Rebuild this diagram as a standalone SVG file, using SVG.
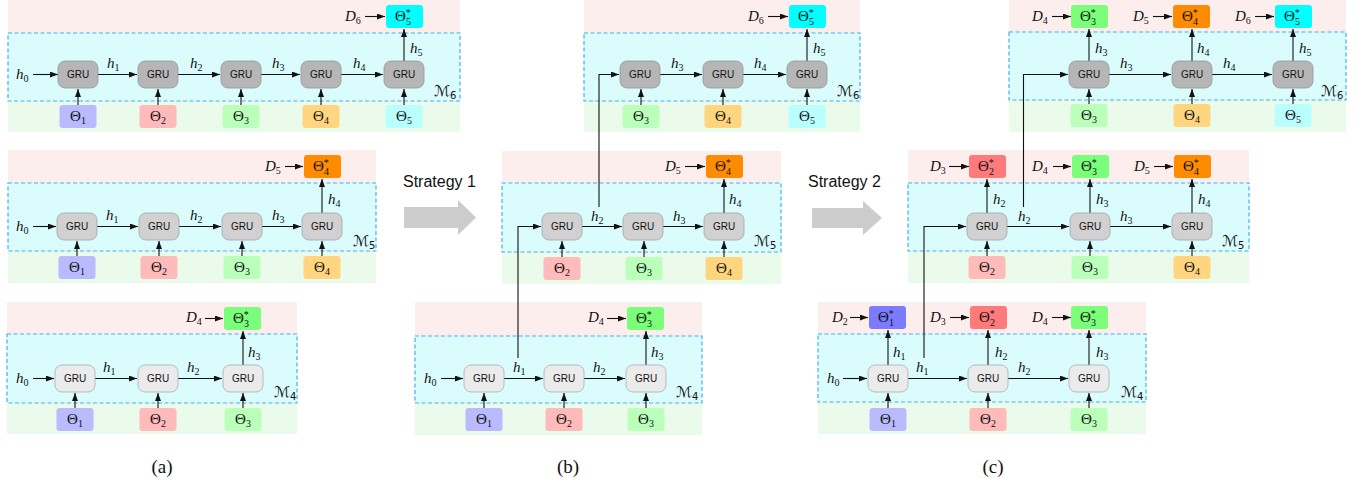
<svg xmlns="http://www.w3.org/2000/svg" width="1367" height="486" viewBox="0 0 1367 486">
<defs>
<marker id="ah" viewBox="0 0 8 6" refX="8" refY="3" markerWidth="8" markerHeight="6" markerUnits="userSpaceOnUse" orient="auto"><path d="M0,0 L8,3 L0,6 z" fill="#111"/></marker>
<style>
.pk{fill:#fdeeee}
.cy{fill:#dbfcfd;stroke:#46aef2;stroke-width:1.2;stroke-dasharray:4 2.5}
.gn{fill:#ebfbeb}
.g6{fill:#b6b6b6;stroke:#949494;stroke-width:0.8}
.g5{fill:#d1d1d1;stroke:#a3a3a3;stroke-width:0.8}
.g4{fill:#ebebeb;stroke:#acacac;stroke-width:0.8}
.gt{font-family:"Liberation Sans",Arial,sans-serif;font-size:10px;text-anchor:middle;fill:#111}
.th{font-family:"Liberation Serif","Times New Roman",serif;font-size:15px;fill:#111;text-anchor:middle}
.ts{font-family:"Liberation Serif","Times New Roman",serif;font-size:15px;fill:#111}
.m{font-family:"Liberation Serif","Times New Roman",serif;font-style:italic;font-size:15px;fill:#111}
.sb{font-size:10px;font-style:normal}
.sp{font-size:10px}
.cm{font-family:"DejaVu Sans",sans-serif;font-size:15px;fill:#111}
.ar{stroke:#111;stroke-width:1.1;fill:none;marker-end:url(#ah)}
.t1{fill:#babaff}.t2{fill:#ffbaba}.t3{fill:#baffba}.t4{fill:#ffd67f}.t5{fill:#baffff}
.s1{fill:#7b7bff}.s2{fill:#ff7b7b}.s3{fill:#7bff7b}.s4{fill:#ff8c00}.s5{fill:#00ffff}
.st{font-family:"Liberation Sans",Arial,sans-serif;font-size:16px;fill:#111}
.cap{font-family:"Liberation Serif","Times New Roman",serif;font-size:19px;text-anchor:middle;fill:#111}
.big{fill:#cccccc}
</style>
</defs>
<rect width="1367" height="486" fill="#ffffff"/>

<!-- ===== bands ===== -->
<g id="a-m6"><rect class="pk" x="8" y="0" width="452" height="33"/><rect class="gn" x="8" y="101" width="452" height="31"/><rect class="cy" x="8" y="33" width="452" height="68"/><text class="cm" x="434" y="96">ℳ<tspan class="sb" dy="3">6</tspan></text></g>
<g id="a-m5"><rect class="pk" x="8" y="150" width="368" height="33"/><rect class="gn" x="8" y="251" width="368" height="32"/><rect class="cy" x="8" y="183" width="368" height="68"/><text class="cm" x="353" y="246">ℳ<tspan class="sb" dy="3">5</tspan></text></g>
<g id="a-m4"><rect class="pk" x="7" y="302" width="290" height="32"/><rect class="gn" x="7" y="403" width="290" height="31"/><rect class="cy" x="7" y="334" width="290" height="69"/><text class="cm" x="274" y="397">ℳ<tspan class="sb" dy="3">4</tspan></text></g>
<g id="b-m6"><rect class="pk" x="584" y="0" width="276" height="33"/><rect class="gn" x="584" y="101" width="276" height="31"/><rect class="cy" x="584" y="33" width="276" height="68"/><text class="cm" x="837" y="96">ℳ<tspan class="sb" dy="3">6</tspan></text></g>
<g id="b-m5"><rect class="pk" x="502" y="151" width="279" height="32"/><rect class="gn" x="502" y="252" width="279" height="32"/><rect class="cy" x="502" y="183" width="279" height="69"/><text class="cm" x="754" y="246">ℳ<tspan class="sb" dy="3">5</tspan></text></g>
<g id="b-m4"><rect class="pk" x="415" y="302" width="287" height="34"/><rect class="gn" x="415" y="403" width="287" height="32"/><rect class="cy" x="415" y="336" width="287" height="67"/><text class="cm" x="676" y="397">ℳ<tspan class="sb" dy="3">4</tspan></text></g>
<g id="c-m6"><rect class="pk" x="1009" y="0" width="337" height="32"/><rect class="gn" x="1009" y="100" width="337" height="32"/><rect class="cy" x="1009" y="32" width="337" height="68"/><text class="cm" x="1321" y="96">ℳ<tspan class="sb" dy="3">6</tspan></text></g>
<g id="c-m5"><rect class="pk" x="908" y="150" width="341" height="33"/><rect class="gn" x="908" y="251" width="341" height="32"/><rect class="cy" x="908" y="183" width="341" height="68"/><text class="cm" x="1222" y="246">ℳ<tspan class="sb" dy="3">5</tspan></text></g>
<g id="c-m4"><rect class="pk" x="818" y="302" width="328" height="32"/><rect class="gn" x="818" y="402" width="328" height="32"/><rect class="cy" x="818" y="334" width="328" height="68"/><text class="cm" x="1121" y="397">ℳ<tspan class="sb" dy="3">4</tspan></text></g>

<!-- ===== connectors ===== -->
<g id="connectors">
<!-- panel a M6 -->
<path class="ar" d="M33,74.5 H58"/><path class="ar" d="M98,74.5 H137"/><path class="ar" d="M178,74.5 H220"/><path class="ar" d="M261,74.5 H300"/><path class="ar" d="M341,74.5 H383"/>
<path class="ar" d="M404,61 V29"/><path class="ar" d="M365,16.5 H385"/>
<path class="ar" d="M78,105 V89"/><path class="ar" d="M158,105 V89"/><path class="ar" d="M241,105 V89"/><path class="ar" d="M321,105 V89"/><path class="ar" d="M404,105 V89"/>
<text class="m" x="16" y="79">h<tspan class="sb" dy="3">0</tspan></text>
<text class="m" x="107" y="68">h<tspan class="sb" dy="3">1</tspan></text>
<text class="m" x="190" y="68">h<tspan class="sb" dy="3">2</tspan></text>
<text class="m" x="272" y="68">h<tspan class="sb" dy="3">3</tspan></text>
<text class="m" x="353" y="68">h<tspan class="sb" dy="3">4</tspan></text>
<text class="m" x="410" y="53">h<tspan class="sb" dy="3">5</tspan></text>
<text class="m" x="345" y="21">D<tspan class="sb" dy="3">6</tspan></text>
<!-- panel a M5 -->
<path class="ar" d="M33,226.5 H56"/><path class="ar" d="M97,226.5 H138"/><path class="ar" d="M179,226.5 H221"/><path class="ar" d="M262,226.5 H301"/>
<path class="ar" d="M322,213 V179"/><path class="ar" d="M285,166.5 H303"/>
<path class="ar" d="M77,256 V241"/><path class="ar" d="M159,256 V241"/><path class="ar" d="M242,256 V241"/><path class="ar" d="M322,256 V241"/>
<text class="m" x="16" y="231">h<tspan class="sb" dy="3">0</tspan></text>
<text class="m" x="106" y="220">h<tspan class="sb" dy="3">1</tspan></text>
<text class="m" x="190" y="220">h<tspan class="sb" dy="3">2</tspan></text>
<text class="m" x="272" y="220">h<tspan class="sb" dy="3">3</tspan></text>
<text class="m" x="328" y="204">h<tspan class="sb" dy="3">4</tspan></text>
<text class="m" x="265" y="171">D<tspan class="sb" dy="3">5</tspan></text>
<!-- panel a M4 -->
<path class="ar" d="M33,378.5 H54"/><path class="ar" d="M95,378.5 H137"/><path class="ar" d="M178,378.5 H222"/>
<path class="ar" d="M243,365 V331"/><path class="ar" d="M205,318.5 H223"/>
<path class="ar" d="M75,408 V393"/><path class="ar" d="M158,408 V393"/><path class="ar" d="M243,408 V393"/>
<text class="m" x="16" y="383">h<tspan class="sb" dy="3">0</tspan></text>
<text class="m" x="103" y="372">h<tspan class="sb" dy="3">1</tspan></text>
<text class="m" x="187" y="372">h<tspan class="sb" dy="3">2</tspan></text>
<text class="m" x="248" y="357">h<tspan class="sb" dy="3">3</tspan></text>
<text class="m" x="186" y="322">D<tspan class="sb" dy="3">4</tspan></text>

<!-- panel b M6 -->
<path class="ar" d="M599,207 V74.5 H619"/>
<path class="ar" d="M660,74.5 H702"/><path class="ar" d="M743,74.5 H786"/>
<path class="ar" d="M807,61 V29"/><path class="ar" d="M768,16.5 H788"/>
<path class="ar" d="M641,105 V89"/><path class="ar" d="M723,105 V89"/><path class="ar" d="M807,105 V89"/>
<text class="m" x="671" y="68">h<tspan class="sb" dy="3">3</tspan></text>
<text class="m" x="754" y="68">h<tspan class="sb" dy="3">4</tspan></text>
<text class="m" x="813" y="53">h<tspan class="sb" dy="3">5</tspan></text>
<text class="m" x="748" y="21">D<tspan class="sb" dy="3">6</tspan></text>
<!-- panel b M5 -->
<path class="ar" d="M518,358 V226.5 H541"/>
<path class="ar" d="M582,226.5 H622"/><path class="ar" d="M663,226.5 H703"/>
<path class="ar" d="M724,213 V179"/><path class="ar" d="M685,166.5 H705"/>
<path class="ar" d="M562,257 V241"/><path class="ar" d="M644,257 V241"/><path class="ar" d="M724,257 V241"/>
<text class="m" x="591" y="221">h<tspan class="sb" dy="3">2</tspan></text>
<text class="m" x="673" y="221">h<tspan class="sb" dy="3">3</tspan></text>
<text class="m" x="729" y="204">h<tspan class="sb" dy="3">4</tspan></text>
<text class="m" x="665" y="171">D<tspan class="sb" dy="3">5</tspan></text>
<!-- panel b M4 -->
<path class="ar" d="M441,378.5 H463"/><path class="ar" d="M504,378.5 H543"/><path class="ar" d="M584,378.5 H625"/>
<path class="ar" d="M646,365 V331"/><path class="ar" d="M607,318.5 H626"/>
<path class="ar" d="M484,408 V393"/><path class="ar" d="M564,408 V393"/><path class="ar" d="M646,408 V393"/>
<text class="m" x="424" y="383">h<tspan class="sb" dy="3">0</tspan></text>
<text class="m" x="513" y="372">h<tspan class="sb" dy="3">1</tspan></text>
<text class="m" x="593" y="372">h<tspan class="sb" dy="3">2</tspan></text>
<text class="m" x="651" y="357">h<tspan class="sb" dy="3">3</tspan></text>
<text class="m" x="588" y="322">D<tspan class="sb" dy="3">4</tspan></text>

<!-- panel c M6 -->
<path class="ar" d="M1023.5,207 V74.5 H1068"/>
<path class="ar" d="M1109,74.5 H1171"/><path class="ar" d="M1212,74.5 H1272"/>
<path class="ar" d="M1089,61 V29"/><path class="ar" d="M1192,61 V29"/><path class="ar" d="M1293,61 V29"/>
<path class="ar" d="M1052,16.5 H1071"/><path class="ar" d="M1153,16.5 H1172"/><path class="ar" d="M1255,16.5 H1274"/>
<path class="ar" d="M1089,104 V89"/><path class="ar" d="M1192,104 V89"/><path class="ar" d="M1293,104 V89"/>
<text class="m" x="1095" y="53">h<tspan class="sb" dy="3">3</tspan></text>
<text class="m" x="1120" y="68">h<tspan class="sb" dy="3">3</tspan></text>
<text class="m" x="1197" y="53">h<tspan class="sb" dy="3">4</tspan></text>
<text class="m" x="1223" y="68">h<tspan class="sb" dy="3">4</tspan></text>
<text class="m" x="1299" y="53">h<tspan class="sb" dy="3">5</tspan></text>
<text class="m" x="1032" y="21">D<tspan class="sb" dy="3">4</tspan></text>
<text class="m" x="1133" y="21">D<tspan class="sb" dy="3">5</tspan></text>
<text class="m" x="1235" y="21">D<tspan class="sb" dy="3">6</tspan></text>
<!-- panel c M5 -->
<path class="ar" d="M924,358 V226.5 H966"/>
<path class="ar" d="M1007,226.5 H1069"/><path class="ar" d="M1110,226.5 H1171"/>
<path class="ar" d="M987,213 V179"/><path class="ar" d="M1090,213 V179"/><path class="ar" d="M1192,213 V179"/>
<path class="ar" d="M949,166.5 H969"/><path class="ar" d="M1053,166.5 H1071"/><path class="ar" d="M1154,166.5 H1173"/>
<path class="ar" d="M987,256 V241"/><path class="ar" d="M1090,256 V241"/><path class="ar" d="M1192,256 V241"/>
<text class="m" x="993" y="204">h<tspan class="sb" dy="3">2</tspan></text>
<text class="m" x="1018" y="221">h<tspan class="sb" dy="3">2</tspan></text>
<text class="m" x="1096" y="204">h<tspan class="sb" dy="3">3</tspan></text>
<text class="m" x="1120" y="221">h<tspan class="sb" dy="3">3</tspan></text>
<text class="m" x="1198" y="204">h<tspan class="sb" dy="3">4</tspan></text>
<text class="m" x="930" y="171">D<tspan class="sb" dy="3">3</tspan></text>
<text class="m" x="1032" y="171">D<tspan class="sb" dy="3">4</tspan></text>
<text class="m" x="1134" y="171">D<tspan class="sb" dy="3">5</tspan></text>
<!-- panel c M4 -->
<path class="ar" d="M843,378.5 H867"/><path class="ar" d="M908,378.5 H967"/><path class="ar" d="M1008,378.5 H1068"/>
<path class="ar" d="M888,365 V330"/><path class="ar" d="M988,365 V330"/><path class="ar" d="M1089,365 V330"/>
<path class="ar" d="M850,317.5 H868"/><path class="ar" d="M950,317.5 H969"/><path class="ar" d="M1052,317.5 H1071"/>
<path class="ar" d="M888,408 V393"/><path class="ar" d="M988,408 V393"/><path class="ar" d="M1089,408 V393"/>
<text class="m" x="827" y="383">h<tspan class="sb" dy="3">0</tspan></text>
<text class="m" x="893" y="357">h<tspan class="sb" dy="3">1</tspan></text>
<text class="m" x="916" y="372">h<tspan class="sb" dy="3">1</tspan></text>
<text class="m" x="995" y="357">h<tspan class="sb" dy="3">2</tspan></text>
<text class="m" x="1018" y="372">h<tspan class="sb" dy="3">2</tspan></text>
<text class="m" x="1096" y="357">h<tspan class="sb" dy="3">3</tspan></text>
<text class="m" x="832" y="322">D<tspan class="sb" dy="3">2</tspan></text>
<text class="m" x="930" y="322">D<tspan class="sb" dy="3">3</tspan></text>
<text class="m" x="1032" y="322">D<tspan class="sb" dy="3">4</tspan></text>
</g>

<!-- ===== GRU nodes ===== -->
<g id="gru-a6-1"><rect class="g6" x="58" y="61" width="40" height="27" rx="7"/><text class="gt" x="78" y="78">GRU</text></g>
<g id="gru-a6-2"><rect class="g6" x="138" y="61" width="40" height="27" rx="7"/><text class="gt" x="158" y="78">GRU</text></g>
<g id="gru-a6-3"><rect class="g6" x="221" y="61" width="40" height="27" rx="7"/><text class="gt" x="241" y="78">GRU</text></g>
<g id="gru-a6-4"><rect class="g6" x="301" y="61" width="40" height="27" rx="7"/><text class="gt" x="321" y="78">GRU</text></g>
<g id="gru-a6-5"><rect class="g6" x="384" y="61" width="40" height="27" rx="7"/><text class="gt" x="404" y="78">GRU</text></g>
<g id="gru-a5-1"><rect class="g5" x="57" y="213" width="40" height="27" rx="7"/><text class="gt" x="77" y="230">GRU</text></g>
<g id="gru-a5-2"><rect class="g5" x="139" y="213" width="40" height="27" rx="7"/><text class="gt" x="159" y="230">GRU</text></g>
<g id="gru-a5-3"><rect class="g5" x="222" y="213" width="40" height="27" rx="7"/><text class="gt" x="242" y="230">GRU</text></g>
<g id="gru-a5-4"><rect class="g5" x="302" y="213" width="40" height="27" rx="7"/><text class="gt" x="322" y="230">GRU</text></g>
<g id="gru-a4-1"><rect class="g4" x="55" y="365" width="40" height="27" rx="7"/><text class="gt" x="75" y="382">GRU</text></g>
<g id="gru-a4-2"><rect class="g4" x="138" y="365" width="40" height="27" rx="7"/><text class="gt" x="158" y="382">GRU</text></g>
<g id="gru-a4-3"><rect class="g4" x="223" y="365" width="40" height="27" rx="7"/><text class="gt" x="243" y="382">GRU</text></g>
<g id="gru-b6-1"><rect class="g6" x="620" y="61" width="40" height="27" rx="7"/><text class="gt" x="640" y="78">GRU</text></g>
<g id="gru-b6-2"><rect class="g6" x="703" y="61" width="40" height="27" rx="7"/><text class="gt" x="723" y="78">GRU</text></g>
<g id="gru-b6-3"><rect class="g6" x="787" y="61" width="40" height="27" rx="7"/><text class="gt" x="807" y="78">GRU</text></g>
<g id="gru-b5-1"><rect class="g5" x="542" y="213" width="40" height="27" rx="7"/><text class="gt" x="562" y="230">GRU</text></g>
<g id="gru-b5-2"><rect class="g5" x="623" y="213" width="40" height="27" rx="7"/><text class="gt" x="643" y="230">GRU</text></g>
<g id="gru-b5-3"><rect class="g5" x="704" y="213" width="40" height="27" rx="7"/><text class="gt" x="724" y="230">GRU</text></g>
<g id="gru-b4-1"><rect class="g4" x="464" y="365" width="40" height="27" rx="7"/><text class="gt" x="484" y="382">GRU</text></g>
<g id="gru-b4-2"><rect class="g4" x="544" y="365" width="40" height="27" rx="7"/><text class="gt" x="564" y="382">GRU</text></g>
<g id="gru-b4-3"><rect class="g4" x="626" y="365" width="40" height="27" rx="7"/><text class="gt" x="646" y="382">GRU</text></g>
<g id="gru-c6-1"><rect class="g6" x="1069" y="61" width="40" height="27" rx="7"/><text class="gt" x="1089" y="78">GRU</text></g>
<g id="gru-c6-2"><rect class="g6" x="1172" y="61" width="40" height="27" rx="7"/><text class="gt" x="1192" y="78">GRU</text></g>
<g id="gru-c6-3"><rect class="g6" x="1273" y="61" width="40" height="27" rx="7"/><text class="gt" x="1293" y="78">GRU</text></g>
<g id="gru-c5-1"><rect class="g5" x="967" y="213" width="40" height="27" rx="7"/><text class="gt" x="987" y="230">GRU</text></g>
<g id="gru-c5-2"><rect class="g5" x="1070" y="213" width="40" height="27" rx="7"/><text class="gt" x="1090" y="230">GRU</text></g>
<g id="gru-c5-3"><rect class="g5" x="1172" y="213" width="40" height="27" rx="7"/><text class="gt" x="1192" y="230">GRU</text></g>
<g id="gru-c4-1"><rect class="g4" x="868" y="365" width="40" height="27" rx="7"/><text class="gt" x="888" y="382">GRU</text></g>
<g id="gru-c4-2"><rect class="g4" x="968" y="365" width="40" height="27" rx="7"/><text class="gt" x="988" y="382">GRU</text></g>
<g id="gru-c4-3"><rect class="g4" x="1069" y="365" width="40" height="27" rx="7"/><text class="gt" x="1089" y="382">GRU</text></g>

<!-- ===== Theta input nodes ===== -->
<g id="th-a6-1"><rect class="t1" x="59.5" y="105" width="37" height="23" rx="3"/><text class="th" x="78" y="121">Θ<tspan class="sb" dy="3">1</tspan></text></g>
<g id="th-a6-2"><rect class="t2" x="139.5" y="105" width="37" height="23" rx="3"/><text class="th" x="158" y="121">Θ<tspan class="sb" dy="3">2</tspan></text></g>
<g id="th-a6-3"><rect class="t3" x="222.5" y="105" width="37" height="23" rx="3"/><text class="th" x="241" y="121">Θ<tspan class="sb" dy="3">3</tspan></text></g>
<g id="th-a6-4"><rect class="t4" x="302.5" y="105" width="37" height="23" rx="3"/><text class="th" x="321" y="121">Θ<tspan class="sb" dy="3">4</tspan></text></g>
<g id="th-a6-5"><rect class="t5" x="385.5" y="105" width="37" height="23" rx="3"/><text class="th" x="404" y="121">Θ<tspan class="sb" dy="3">5</tspan></text></g>
<g id="th-a5-1"><rect class="t1" x="58.5" y="256" width="37" height="23" rx="3"/><text class="th" x="77" y="272">Θ<tspan class="sb" dy="3">1</tspan></text></g>
<g id="th-a5-2"><rect class="t2" x="140.5" y="256" width="37" height="23" rx="3"/><text class="th" x="159" y="272">Θ<tspan class="sb" dy="3">2</tspan></text></g>
<g id="th-a5-3"><rect class="t3" x="223.5" y="256" width="37" height="23" rx="3"/><text class="th" x="242" y="272">Θ<tspan class="sb" dy="3">3</tspan></text></g>
<g id="th-a5-4"><rect class="t4" x="303.5" y="256" width="37" height="23" rx="3"/><text class="th" x="322" y="272">Θ<tspan class="sb" dy="3">4</tspan></text></g>
<g id="th-a4-1"><rect class="t1" x="56.5" y="408" width="37" height="23" rx="3"/><text class="th" x="75" y="424">Θ<tspan class="sb" dy="3">1</tspan></text></g>
<g id="th-a4-2"><rect class="t2" x="139.5" y="408" width="37" height="23" rx="3"/><text class="th" x="158" y="424">Θ<tspan class="sb" dy="3">2</tspan></text></g>
<g id="th-a4-3"><rect class="t3" x="224.5" y="408" width="37" height="23" rx="3"/><text class="th" x="243" y="424">Θ<tspan class="sb" dy="3">3</tspan></text></g>
<g id="th-b6-3"><rect class="t3" x="622.5" y="105" width="37" height="23" rx="3"/><text class="th" x="641" y="121">Θ<tspan class="sb" dy="3">3</tspan></text></g>
<g id="th-b6-4"><rect class="t4" x="704.5" y="105" width="37" height="23" rx="3"/><text class="th" x="723" y="121">Θ<tspan class="sb" dy="3">4</tspan></text></g>
<g id="th-b6-5"><rect class="t5" x="788.5" y="105" width="37" height="23" rx="3"/><text class="th" x="807" y="121">Θ<tspan class="sb" dy="3">5</tspan></text></g>
<g id="th-b5-2"><rect class="t2" x="543.5" y="257" width="37" height="23" rx="3"/><text class="th" x="562" y="273">Θ<tspan class="sb" dy="3">2</tspan></text></g>
<g id="th-b5-3"><rect class="t3" x="625.5" y="257" width="37" height="23" rx="3"/><text class="th" x="644" y="273">Θ<tspan class="sb" dy="3">3</tspan></text></g>
<g id="th-b5-4"><rect class="t4" x="705.5" y="257" width="37" height="23" rx="3"/><text class="th" x="724" y="273">Θ<tspan class="sb" dy="3">4</tspan></text></g>
<g id="th-b4-1"><rect class="t1" x="465.5" y="408" width="37" height="23" rx="3"/><text class="th" x="484" y="424">Θ<tspan class="sb" dy="3">1</tspan></text></g>
<g id="th-b4-2"><rect class="t2" x="545.5" y="408" width="37" height="23" rx="3"/><text class="th" x="564" y="424">Θ<tspan class="sb" dy="3">2</tspan></text></g>
<g id="th-b4-3"><rect class="t3" x="627.5" y="408" width="37" height="23" rx="3"/><text class="th" x="646" y="424">Θ<tspan class="sb" dy="3">3</tspan></text></g>
<g id="th-c6-3"><rect class="t3" x="1070.5" y="104" width="37" height="23" rx="3"/><text class="th" x="1089" y="120">Θ<tspan class="sb" dy="3">3</tspan></text></g>
<g id="th-c6-4"><rect class="t4" x="1173.5" y="104" width="37" height="23" rx="3"/><text class="th" x="1192" y="120">Θ<tspan class="sb" dy="3">4</tspan></text></g>
<g id="th-c6-5"><rect class="t5" x="1274.5" y="104" width="37" height="23" rx="3"/><text class="th" x="1293" y="120">Θ<tspan class="sb" dy="3">5</tspan></text></g>
<g id="th-c5-2"><rect class="t2" x="968.5" y="256" width="37" height="23" rx="3"/><text class="th" x="987" y="272">Θ<tspan class="sb" dy="3">2</tspan></text></g>
<g id="th-c5-3"><rect class="t3" x="1071.5" y="256" width="37" height="23" rx="3"/><text class="th" x="1090" y="272">Θ<tspan class="sb" dy="3">3</tspan></text></g>
<g id="th-c5-4"><rect class="t4" x="1173.5" y="256" width="37" height="23" rx="3"/><text class="th" x="1192" y="272">Θ<tspan class="sb" dy="3">4</tspan></text></g>
<g id="th-c4-1"><rect class="t1" x="869.5" y="408" width="37" height="23" rx="3"/><text class="th" x="888" y="424">Θ<tspan class="sb" dy="3">1</tspan></text></g>
<g id="th-c4-2"><rect class="t2" x="969.5" y="408" width="37" height="23" rx="3"/><text class="th" x="988" y="424">Θ<tspan class="sb" dy="3">2</tspan></text></g>
<g id="th-c4-3"><rect class="t3" x="1070.5" y="408" width="37" height="23" rx="3"/><text class="th" x="1089" y="424">Θ<tspan class="sb" dy="3">3</tspan></text></g>

<!-- ===== Theta* output nodes ===== -->
<g id="ts-a6-5"><rect class="s5" x="386" y="5" width="37" height="23" rx="3"/><text class="ts" x="395" y="21">Θ<tspan class="sp" dy="-5">*</tspan><tspan class="sp" x="406" dy="9">5</tspan></text></g>
<g id="ts-a5-4"><rect class="s4" x="304" y="155" width="37" height="23" rx="3"/><text class="ts" x="313" y="171">Θ<tspan class="sp" dy="-5">*</tspan><tspan class="sp" x="324" dy="9">4</tspan></text></g>
<g id="ts-a4-3"><rect class="s3" x="224" y="307" width="37" height="23" rx="3"/><text class="ts" x="233" y="323">Θ<tspan class="sp" dy="-5">*</tspan><tspan class="sp" x="244" dy="9">3</tspan></text></g>
<g id="ts-b6-5"><rect class="s5" x="789" y="5" width="37" height="23" rx="3"/><text class="ts" x="798" y="21">Θ<tspan class="sp" dy="-5">*</tspan><tspan class="sp" x="809" dy="9">5</tspan></text></g>
<g id="ts-b5-4"><rect class="s4" x="706" y="155" width="37" height="23" rx="3"/><text class="ts" x="715" y="171">Θ<tspan class="sp" dy="-5">*</tspan><tspan class="sp" x="726" dy="9">4</tspan></text></g>
<g id="ts-b4-3"><rect class="s3" x="627" y="307" width="37" height="23" rx="3"/><text class="ts" x="636" y="323">Θ<tspan class="sp" dy="-5">*</tspan><tspan class="sp" x="647" dy="9">3</tspan></text></g>
<g id="ts-c6-3"><rect class="s3" x="1071" y="5" width="37" height="23" rx="3"/><text class="ts" x="1080" y="21">Θ<tspan class="sp" dy="-5">*</tspan><tspan class="sp" x="1091" dy="9">3</tspan></text></g>
<g id="ts-c6-4"><rect class="s4" x="1173" y="5" width="37" height="23" rx="3"/><text class="ts" x="1182" y="21">Θ<tspan class="sp" dy="-5">*</tspan><tspan class="sp" x="1193" dy="9">4</tspan></text></g>
<g id="ts-c6-5"><rect class="s5" x="1275" y="5" width="37" height="23" rx="3"/><text class="ts" x="1284" y="21">Θ<tspan class="sp" dy="-5">*</tspan><tspan class="sp" x="1295" dy="9">5</tspan></text></g>
<g id="ts-c5-2"><rect class="s2" x="969" y="155" width="37" height="23" rx="3"/><text class="ts" x="978" y="171">Θ<tspan class="sp" dy="-5">*</tspan><tspan class="sp" x="989" dy="9">2</tspan></text></g>
<g id="ts-c5-3"><rect class="s3" x="1072" y="155" width="37" height="23" rx="3"/><text class="ts" x="1081" y="171">Θ<tspan class="sp" dy="-5">*</tspan><tspan class="sp" x="1092" dy="9">3</tspan></text></g>
<g id="ts-c5-4"><rect class="s4" x="1174" y="155" width="37" height="23" rx="3"/><text class="ts" x="1183" y="171">Θ<tspan class="sp" dy="-5">*</tspan><tspan class="sp" x="1194" dy="9">4</tspan></text></g>
<g id="ts-c4-1"><rect class="s1" x="869" y="306" width="37" height="23" rx="3"/><text class="ts" x="878" y="322">Θ<tspan class="sp" dy="-5">*</tspan><tspan class="sp" x="889" dy="9">1</tspan></text></g>
<g id="ts-c4-2"><rect class="s2" x="970" y="306" width="37" height="23" rx="3"/><text class="ts" x="979" y="322">Θ<tspan class="sp" dy="-5">*</tspan><tspan class="sp" x="990" dy="9">2</tspan></text></g>
<g id="ts-c4-3"><rect class="s3" x="1071" y="306" width="37" height="23" rx="3"/><text class="ts" x="1080" y="322">Θ<tspan class="sp" dy="-5">*</tspan><tspan class="sp" x="1091" dy="9">3</tspan></text></g>

<!-- ===== strategy arrows ===== -->
<g id="strategy1"><text class="st" x="403" y="187">Strategy 1</text><path class="big" d="M404,207 H458 V200 L476,217.5 L458,235 V228 H404 Z"/></g>
<g id="strategy2"><text class="st" x="808" y="187">Strategy 2</text><path class="big" d="M812,208 H863 V201 L882,218 L863,235 V228 H812 Z"/></g>

<!-- ===== captions ===== -->
<text class="cap" x="162" y="473">(a)</text>
<text class="cap" x="568" y="473">(b)</text>
<text class="cap" x="993" y="473">(c)</text>
</svg>
